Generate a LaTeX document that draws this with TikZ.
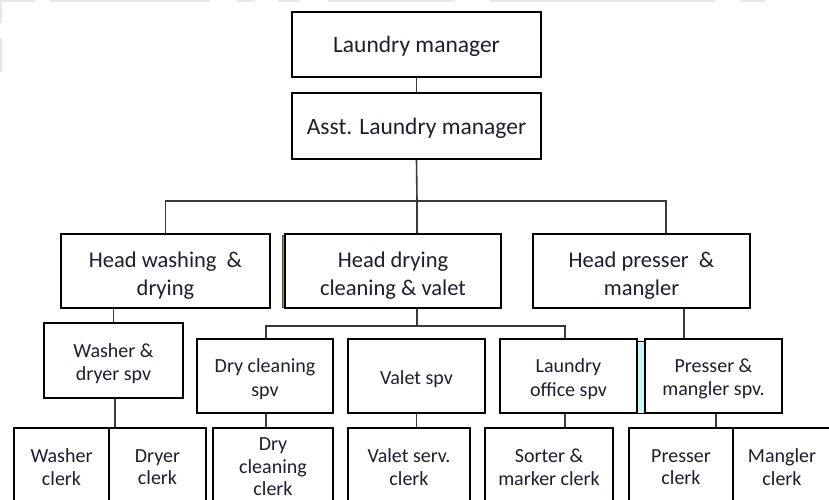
\documentclass[tikz,border=0pt]{standalone}
\usepackage{fontspec}
\setmainfont{Carlito}
\definecolor{txt}{HTML}{1E1E2E}
\definecolor{conn}{HTML}{3A3A3A}
\definecolor{olivebar}{HTML}{9C9C5E}
\definecolor{cyanbar}{HTML}{C6F6F8}
\newcommand{\pushdown}[1]{\rule{0pt}{\dimexpr\fontcharht\font`d+#1\relax}}
\tikzset{
  box/.style={draw=black, line width=2.2pt, fill=white, inner sep=0pt, align=center, text=txt, anchor=center},
  bigbox/.style={box, font=\fontsize{23.5}{28}\selectfont},
  midbox/.style={box, font=\fontsize{22.5}{28}\selectfont},
  smallbox/.style={box, font=\fontsize{20}{23.5}\selectfont},
  clerkbox/.style={box, font=\fontsize{20}{22.5}\selectfont},
  conn/.style={draw=conn, line width=1.6pt},
  faint/.style={draw=black!9, line width=2.5pt}
}
\begin{document}
\begin{tikzpicture}[x=1pt,y=-1pt]
\useasboundingbox (0,0) rectangle (829,500);
\clip (0,0) rectangle (829,500);
\fill[white] (0,0) rectangle (829,500);
% faint scan artefacts at the top and left
\foreach \a/\b in {0/35,50/210,237/255,278/300,328/455,490/715,740/765}
  \draw[faint] (\a,1) -- (\b,1);
\draw[faint] (1,0) -- (1,23);
\draw[faint] (1,38) -- (1,72);
% coloured slivers
\filldraw[fill=olivebar, draw=black!70, line width=0.8pt] (282.5,235) rectangle (286.5,307.5);
\filldraw[fill=cyanbar, draw=black, line width=0.8pt] (636,341) rectangle (646,413);
% level 1
\node[bigbox, minimum width=249pt, minimum height=65pt] (lm)  at (416.5,44.5) {\pushdown{4.5pt}Laundry manager};
\node[bigbox, minimum width=249pt, minimum height=66pt] (alm) at (416.5,126) {\pushdown{4.5pt}Asst. Laundry manager};
% level 2
\node[midbox, minimum width=209pt, minimum height=74pt] (hwd) at (165.5,271) {\pushdown{9pt}Head washing\ \ \&\\drying};
\node[midbox, minimum width=216pt, minimum height=74pt] (hdc) at (393,271) {\pushdown{9pt}Head drying\\cleaning \& valet};
\node[midbox, minimum width=217pt, minimum height=74pt] (hpm) at (641.5,271) {\pushdown{9pt}Head presser\ \ \&\\mangler};
% level 3
\node[smallbox, minimum width=139pt, minimum height=75pt] (wds) at (113.5,360.5) {\pushdown{6pt}Washer \&\\dryer spv};
\node[smallbox, minimum width=136pt, minimum height=74pt] (dcs) at (265,376) {\pushdown{6pt}Dry cleaning\\spv};
\node[smallbox, minimum width=137pt, minimum height=74pt] (vs)  at (416.5,376) {\pushdown{5.5pt}Valet spv};
\node[smallbox, minimum width=137pt, minimum height=74pt] (los) at (568.5,376) {\pushdown{6pt}Laundry\\office spv};
\node[smallbox, minimum width=137pt, minimum height=74pt] (pms) at (713.5,376) {\pushdown{6pt}Presser \&\\mangler spv.};
% level 4
\node[clerkbox, minimum width=95pt,  minimum height=78pt] (wc)  at (61.5,467) {Washer\\clerk};
\node[clerkbox, minimum width=97pt,  minimum height=78pt] (dc)  at (157.5,467) {Dryer\\clerk};
\node[clerkbox, minimum width=120pt, minimum height=78pt] (dcc) at (273,467) {Dry\\cleaning\\clerk};
\node[clerkbox, minimum width=122pt, minimum height=78pt] (vsc) at (409,467) {Valet serv.\\clerk};
\node[clerkbox, minimum width=128pt, minimum height=78pt] (smc) at (549,467) {Sorter \&\\marker clerk};
\node[clerkbox, minimum width=104pt, minimum height=78pt] (pc)  at (681,467) {Presser\\clerk};
\node[clerkbox, minimum width=98pt,  minimum height=78pt] (mc)  at (782,467) {Mangler\\clerk};
% connectors
\coordinate (j1) at (417,201);
\coordinate (j2) at (417,326);
\draw[conn] (lm.south) -- (alm.north);
\draw[conn] (alm.south) -- (j1);
\draw[conn] (hwd.north) |- (j1) -| ([xshift=24.5pt]hpm.north);
\draw[conn] (j1) -- (j1 |- hdc.north);
\draw[conn] (wds.north) -- (wds.north |- hwd.south);
\draw[conn] (j2 |- hdc.south) -- (j2);
\draw[conn] ([xshift=1pt]dcs.north) |- (j2) -| ([xshift=-3.5pt]los.north);
\draw[conn] ([xshift=42.5pt]hpm.south) -- ([xshift=-29.5pt]pms.north);
\draw[conn] ([xshift=1.5pt]wds.south) -- ([xshift=1.5pt]wds.south |- dc.north);
\draw[conn] ([xshift=1pt]dcs.south) -- ([xshift=1pt]dcs.south |- dcc.north);
\draw[conn] (vs.south) -- (vs.south |- vsc.north);
\draw[conn] ([xshift=-3.5pt]los.south) -- ([xshift=-3.5pt]los.south |- smc.north);
\draw[conn] ([xshift=2.5pt]pms.south) -- ([xshift=2.5pt]pms.south |- pc.north);
\end{tikzpicture}
\end{document}
